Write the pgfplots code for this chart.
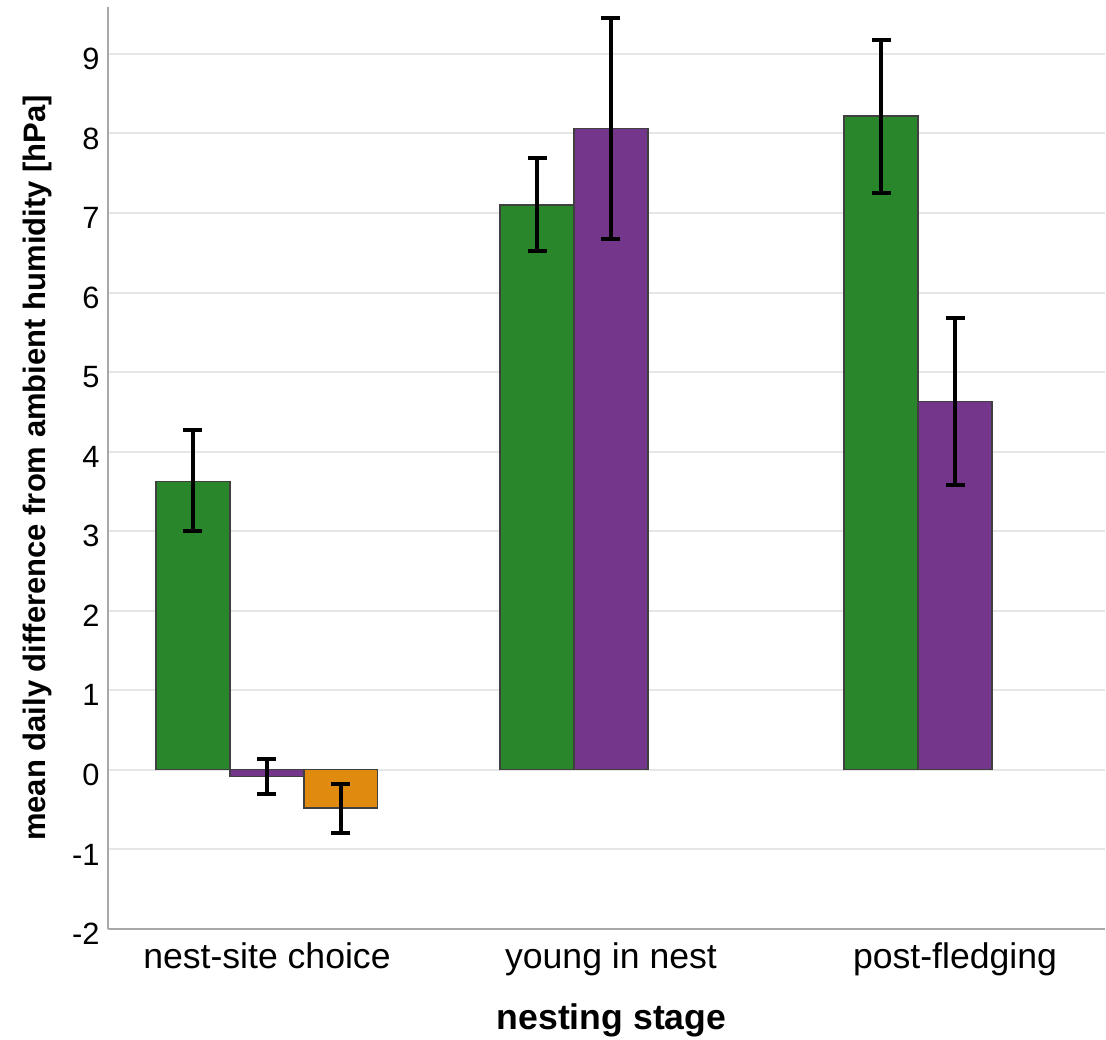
\documentclass[border=0pt]{standalone}
\usepackage{pgfplots}
\usepackage{pgfplotstable}
\pgfplotsset{compat=1.18}
\usepackage{fontspec}
\setmainfont{Liberation Sans}
\definecolor{cgreen}{HTML}{2A862A}
\definecolor{cpurple}{HTML}{74368A}
\definecolor{corange}{HTML}{E08A10}
\definecolor{gridc}{HTML}{E6E6E6}
\definecolor{axc}{HTML}{A8A8A8}
% x = group index + bar offset (bar width 0.215)
\pgfplotstableread{
x      y     ep    em
-0.215 3.63  0.64  0.63
0.785  7.10  0.59  0.58
1.785  8.22  0.96  0.97
}\greendata
\pgfplotstableread{
x      y     ep    em
0      -0.08 0.22  0.22
1      8.06  1.39  1.39
2      4.63  1.05  1.05
}\purpledata
\pgfplotstableread{
x      y     ep    em
0.215  -0.48 0.30  0.31
}\orangedata
\begin{document}
\begin{tikzpicture}
\begin{axis}[
  scale only axis,
  width=498.5pt, height=461pt,
  xmin=-0.462, xmax=2.436,
  ymin=-2, ymax=9.59,
  axis x line*=bottom, axis y line*=left,
  axis line style={axc, line width=1.2pt},
  xtick={0,1,2},
  xticklabels={nest-site choice, young in nest, post-fledging},
  ytick={-2,-1,0,1,2,3,4,5,6,7,8,9},
  major tick length=0pt,
  ymajorgrids,
  grid style={gridc, line width=1pt},
  /pgf/number format/assume math mode=true,
  yticklabel style={font=\fontsize{15.4}{18}\selectfont, anchor=east, inner sep=0pt, xshift=-4pt, yshift=-2.5pt},
  xticklabel style={font=\fontsize{17.8}{20}\selectfont, anchor=base, inner sep=0pt, yshift=-20pt},
  xlabel={\textbf{nesting stage}},
  ylabel={\textbf{mean daily difference from ambient humidity [hPa]}},
  xlabel style={font=\fontsize{17.8}{20}\selectfont, at={(axis description cs:0.5,0)}, anchor=base, inner sep=0pt, yshift=-50.5pt, xshift=2.5pt},
  ylabel style={font=\fontsize{15.5}{18}\selectfont, at={(axis description cs:0,0.5)}, anchor=center, inner sep=0pt, yshift=35.25pt},
  error bars/y dir=both,
  error bars/y explicit,
  error bars/error mark=-,
  error bars/error bar style={black, line width=2pt},
  error bars/error mark options={black, line width=2pt, mark size=4.75pt, rotate=90},
  clip=false,
]
\coordinate (sw) at (rel axis cs:0,0);
\coordinate (ne) at (rel axis cs:1,1);
\addplot[ybar, bar width=0.215, bar shift=0, fill=cgreen, draw=black!75, line width=0.6pt]
  table[x=x, y=y, y error plus=ep, y error minus=em] {\greendata};
\addplot[ybar, bar width=0.215, bar shift=0, fill=cpurple, draw=black!75, line width=0.6pt]
  table[x=x, y=y, y error plus=ep, y error minus=em] {\purpledata};
\addplot[ybar, bar width=0.215, bar shift=0, fill=corange, draw=black!75, line width=0.6pt]
  table[x=x, y=y, y error plus=ep, y error minus=em] {\orangedata};
\end{axis}
\pgfresetboundingbox
\path ([shift={(-54pt,-55.5pt)}]sw) rectangle ([shift={(0.5pt,3.5pt)}]ne);
\end{tikzpicture}
\end{document}
